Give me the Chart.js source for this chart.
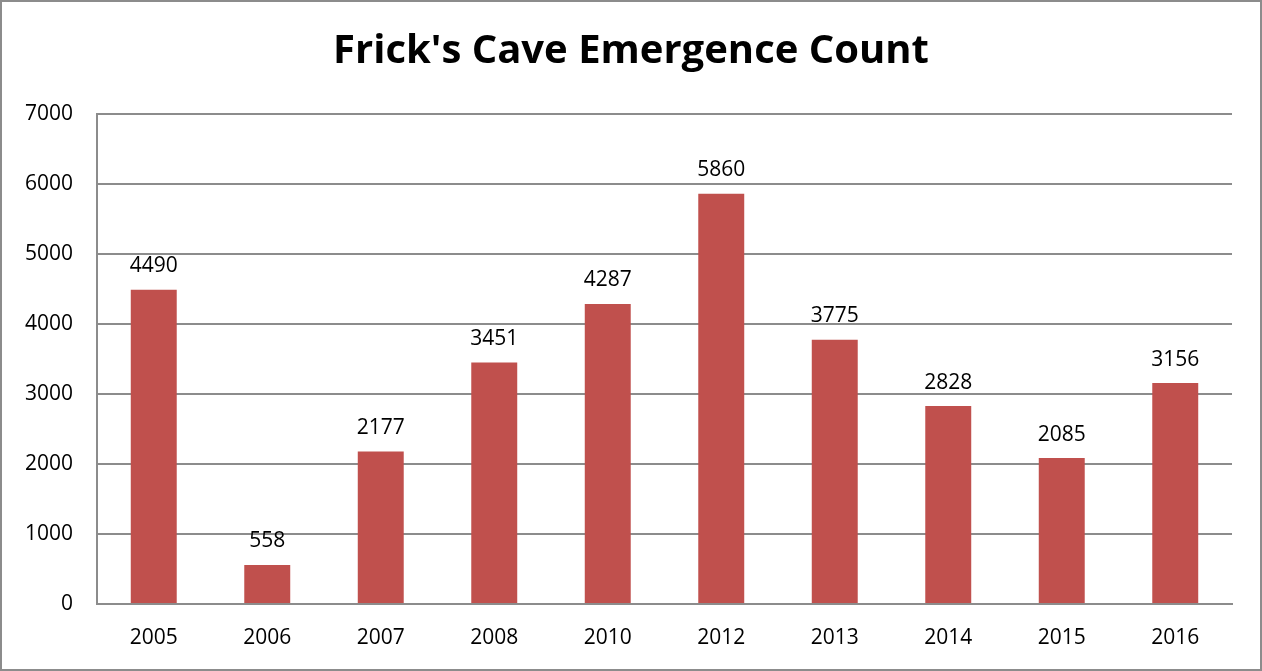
<!DOCTYPE html>
<html>
<head>
<meta charset="utf-8">
<script src="https://cdn.jsdelivr.net/npm/chart.js@4"></script>
<style>
  html, body { margin: 0; padding: 0; background: #fff; }
  #wrap { width: 1262px; height: 671px; }
</style>
</head>
<body>
<div id="wrap"><canvas id="c"></canvas></div>
<script>
const years = ['2005', '2006', '2007', '2008', '2010', '2012', '2013', '2014', '2015', '2016'];
const counts = [4490, 558, 2177, 3451, 4287, 5860, 3775, 2828, 2085, 3156];
const yTicks = [0, 1000, 2000, 3000, 4000, 5000, 6000, 7000];
const title = "Frick's Cave Emergence Count";

const FONT = '"Open Sans", "Noto Sans", sans-serif';
const GRID = '#8c8c8c';

// grey frame and centred title, drawn by hand so the title sits in the middle of the whole box
const frame = {
    id: 'frame',
    beforeDraw(chart) {
        const { ctx, width, height } = chart;
        ctx.save();
        ctx.fillStyle = '#fff';
        ctx.fillRect(0, 0, width, height);
        ctx.strokeStyle = '#8c8c8c';
        ctx.lineWidth = 2;
        ctx.strokeRect(1, 1, width - 2, height - 2);
        ctx.fillStyle = '#000';
        ctx.font = 'bold 40px ' + FONT;
        ctx.textAlign = 'center';
        ctx.textBaseline = 'middle';
        ctx.fillText(title, width / 2, 52);
        ctx.restore();
    },
};

// value written over each bar
const barLabels = {
    id: 'barLabels',
    afterDatasetsDraw(chart) {
        const { ctx } = chart;
        const meta = chart.getDatasetMeta(0);
        ctx.save();
        ctx.font = '21px ' + FONT;
        ctx.fillStyle = '#000';
        ctx.textAlign = 'center';
        ctx.textBaseline = 'bottom';
        meta.data.forEach((bar, i) => {
            ctx.fillText(String(counts[i]), bar.x, bar.y - 13);
        });
        ctx.restore();
    },
};

new Chart(document.getElementById('c'), {
    type: 'bar',
    data: {
        labels: years,
        datasets: [{ data: counts, backgroundColor: '#c0504d', barPercentage: 0.405, categoryPercentage: 1 }],
    },
    options: {
        responsive: true,
        maintainAspectRatio: false,
        animation: false,
        layout: { padding: { left: 0, right: 30, top: 114, bottom: 0 } },
        plugins: {
            legend: { display: false },
            tooltip: { enabled: false },
            title: { display: false },
        },
        scales: {
            x: {
                grid: { display: false, drawTicks: false },
                border: { color: GRID, width: 2 },
                ticks: { color: '#000', font: { family: FONT, size: 21 }, padding: 21 },
                afterFit: (s) => { s.height = 67; },
            },
            y: {
                min: 0,
                max: 7000,
                afterBuildTicks: (s) => { s.ticks = yTicks.map((v) => ({ value: v })); },
                grid: { color: GRID, lineWidth: 2, drawTicks: false },
                border: { color: GRID, width: 2 },
                ticks: { color: '#000', font: { family: FONT, size: 21 }, padding: 24, callback: (v) => String(v) },
                afterFit: (s) => { s.width = 97; },
            },
        },
    },
    plugins: [frame, barLabels],
});
</script>
</body>
</html>
